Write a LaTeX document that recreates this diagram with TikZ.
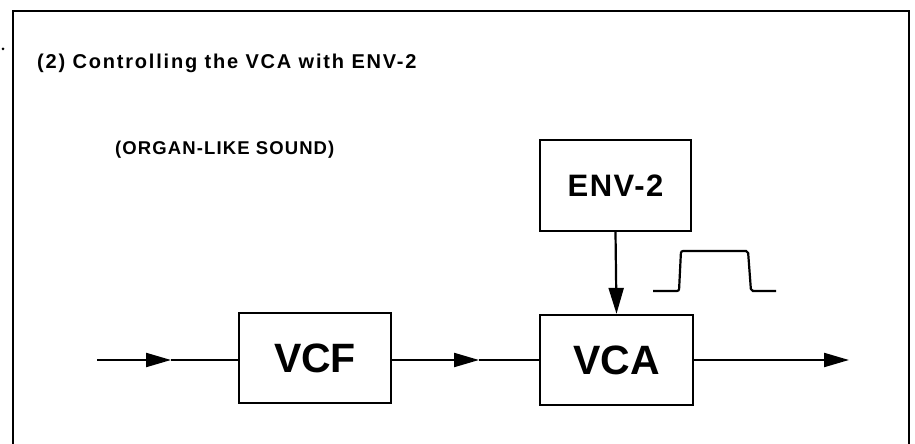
\documentclass[tikz,border=0pt]{standalone}
\usepackage{fontspec}
\setmainfont{Liberation Sans}
\usetikzlibrary{arrows.meta}
\tikzset{
  blk/.style={draw, line width=2.3pt, minimum width=152pt, minimum height=90pt, inner sep=0pt, font=\fontsize{41}{41}\selectfont\bfseries},
  conn/.style={line width=2.2pt},
  arr/.style={conn, -{Triangle[length=25pt,width=14pt]}},
  frame/.style={line width=2.2pt},
}
\begin{document}
\begin{tikzpicture}[x=1pt,y=-1pt]
\useasboundingbox (0,0) rectangle (915,444);
% frame
\draw[frame] (13,444) -- (13,11) -- (909,11) -- (909,444);
\fill (3,49) circle (1.5pt);
% texts
\node[anchor=base west, inner sep=0pt, font=\fontsize{20}{20}\selectfont\bfseries\addfontfeature{LetterSpace=9}] (title) at (37,69) {(2) Controlling the VCA with ENV-2};
\node[anchor=base west, inner sep=0pt, font=\fontsize{18.5}{18.5}\selectfont\bfseries\addfontfeature{LetterSpace=6}] (organ) at (115,154) {(ORGAN-LIKE SOUND)};
% blocks
\node[blk] (vcf) at (315,358) {VCF};
\node[blk, minimum width=151pt, minimum height=91pt, font=\fontsize{31}{31}\selectfont\bfseries\addfontfeature{LetterSpace=5}] (env) at (615.5,185.5) {ENV-2};
\node[blk, minimum width=153pt] (vca) at (616.5,360) {VCA};
% connectors
\coordinate (in) at (97,360);
\coordinate (m1) at (171,360);
\coordinate (m2) at (479,360);
\coordinate (out) at (849,360);
\draw[arr] (in) -- (m1);
\draw[conn] (m1) -- (vcf.west |- m1);
\draw[arr] (vcf.east |- m2) -- (m2);
\draw[conn] (m2) -- (vca.west |- m2);
\draw[arr] (vca.east |- out) -- (out);
\draw[arr, -{Triangle[length=26pt,width=15pt]}] (env.south) -- (vca.north);
% pulse
\coordinate (p0) at (653,291);
\coordinate (p1) at (679,291);
\coordinate (p2) at (681,251);
\coordinate (p3) at (748,251);
\coordinate (p4) at (751,291);
\coordinate (p5) at (776,291);
\draw[conn, rounded corners=2pt] (p0) -- (p1) -- (p2) -- (p3) -- (p4) -- (p5);
\end{tikzpicture}
\end{document}
